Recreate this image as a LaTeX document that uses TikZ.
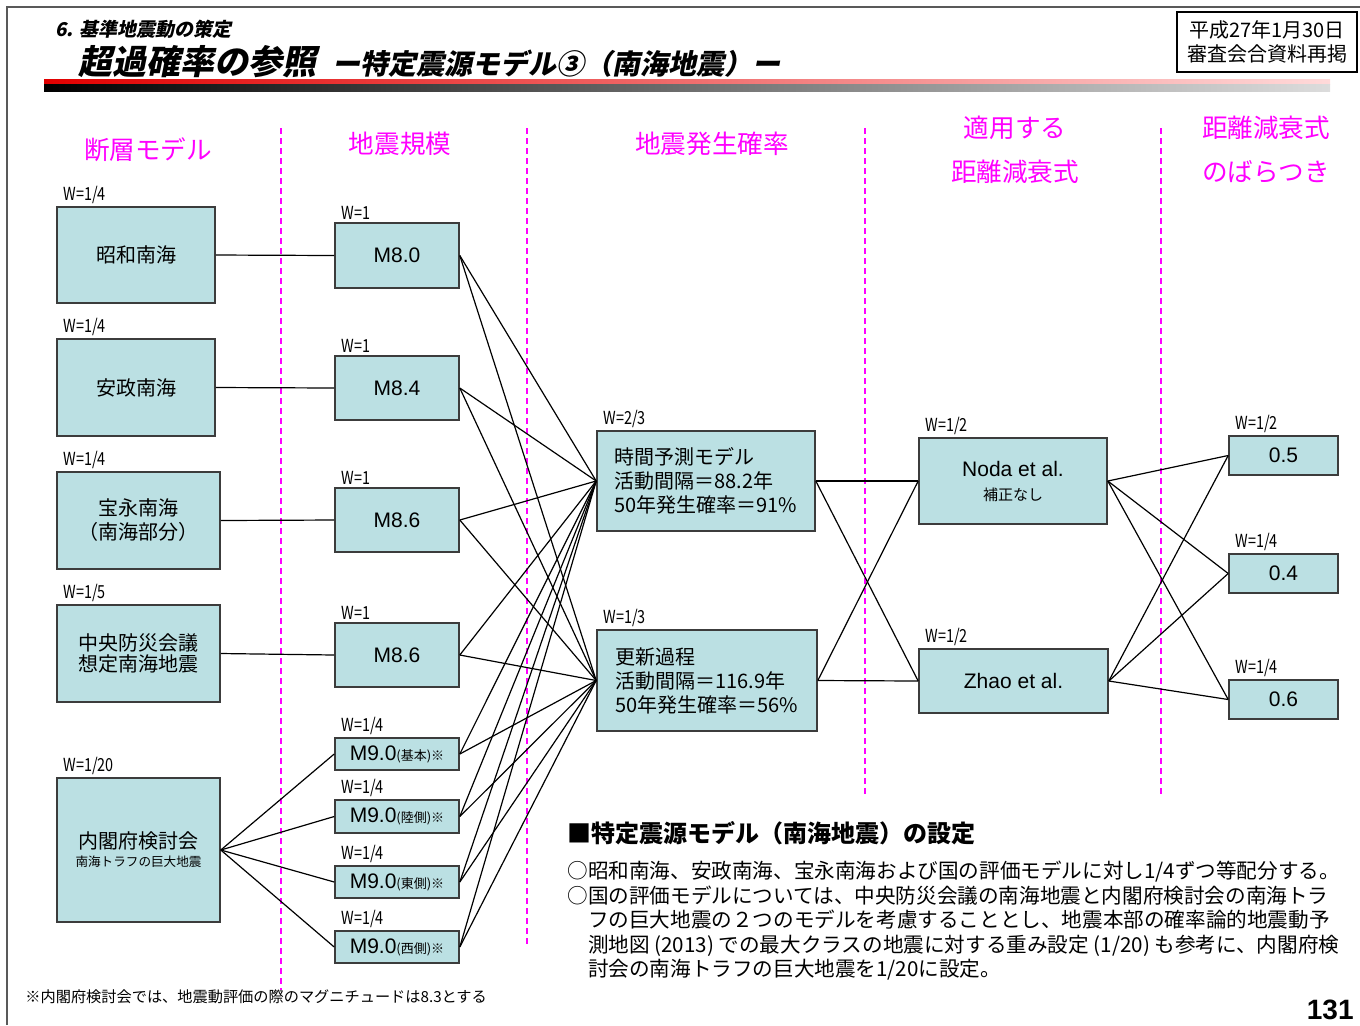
\documentclass[tikz,border=0pt]{standalone}
\usepackage{fontspec}
\setmainfont{Noto Sans CJK JP}
\newfontfamily\latfont{Liberation Sans}
\newfontfamily\wfont[FakeStretch=0.8]{Noto Sans CJK JP}
\newfontfamily\ttlfont[FakeSlant=0.2]{Noto Sans CJK JP}
\definecolor{boxfill}{RGB}{187,224,227}
\definecolor{boxline}{RGB}{60,60,60}
\definecolor{pinkhdr}{RGB}{255,0,255}
\definecolor{barred}{RGB}{225,0,0}
\definecolor{barpink}{RGB}{255,218,218}
\definecolor{bargray}{RGB}{220,220,220}
\tikzset{
  box/.style={draw=boxline, line width=0.8pt, fill=boxfill, inner sep=0pt, align=center, font=\fontsize{10}{12}\selectfont},
  mbox/.style={box, minimum width=62pt, font=\latfont\fontsize{10.5}{12}\selectfont},
  vbox/.style={box, minimum width=54.5pt, minimum height=19.5pt, font=\latfont\fontsize{10.5}{12}\selectfont},
  wlab/.style={anchor=south west, inner sep=0pt, xshift=3.5pt, yshift=1pt, font=\wfont\fontsize{9}{9}\selectfont},
  wl/.style={label={[wlab]north west:#1}},
  colhead/.style={text=pinkhdr, align=center, font=\fontsize{12.8}{22}\selectfont},
  sepline/.style={color=pinkhdr, dash pattern=on 3pt off 2pt, line width=0.65pt},
  link/.style={line width=0.6pt}
}
\newcommand{\subtxt}[1]{{\rmfamily\fontsize{6.5}{7}\selectfont #1}}
\begin{document}
\begin{tikzpicture}[x=0.5pt,y=-0.5pt]
\useasboundingbox (0,0) rectangle (1360,1025);
% frame, title and bars
\draw[gray!70!black, line width=1pt] (7,1025) -- (7,7) -- (1360,7);
\node[anchor=west, inner sep=0pt, font=\ttlfont\bfseries\fontsize{9.5}{11}\selectfont] (sub) at (55,29) {6. 基準地震動の策定};
\node[anchor=west, inner sep=0pt, font=\ttlfont\bfseries\fontsize{17}{20}\selectfont] (ttl) at (78,62) {超過確率の参照\hspace{8pt}{\fontsize{14}{16}\selectfont ー特定震源モデル③（南海地震）ー}};
\shade[left color=barred, right color=barpink] (44,79) rectangle (1330,84);
\shade[left color=black, right color=bargray] (44,84) rectangle (1330,91);
\node[draw, line width=0.8pt, minimum width=90pt, minimum height=30pt, align=center, font=\fontsize{10}{12}\selectfont] (date) at (1267,42) {平成27年1月30日\\審査会合資料再掲};
% column heads and separators
\node[colhead] (h1) at (148,150) {断層モデル};
\node[colhead] (h2) at (400,144) {地震規模};
\node[colhead] (h3) at (712,144) {地震発生確率};
\node[colhead] (h4) at (1015,150) {適用する\\距離減衰式};
\node[colhead] (h5) at (1266,150) {距離減衰式\\のばらつき};
\draw[sepline] (281,128) -- (281,990) (527,128) -- (527,945) (865,128) -- (865,795) (1161,128) -- (1161,795);
% fault models
\node[box,wl={W=1/4},minimum width=79pt,minimum height=48pt] (showa) at (136,255) {昭和南海};
\node[box,wl={W=1/4},minimum width=79pt,minimum height=48.5pt] (ansei) at (136,387.5) {安政南海};
\node[box,wl={W=1/4},minimum width=81.5pt,minimum height=48.5pt] (hoei) at (138.5,520.5) {宝永南海\\（南海部分）};
\node[box,wl={W=1/5},minimum width=81.5pt,minimum height=48.5pt,font=\fontsize{10}{10.5}\selectfont] (chuo) at (138.5,653.5) {中央防災会議\\想定南海地震};
\node[box,wl={W=1/20},minimum width=81.5pt,minimum height=72pt] (naikaku) at (138.5,850) {内閣府検討会\\[-3pt]{\fontsize{6.3}{7}\selectfont 南海トラフの巨大地震}};
% magnitudes
\node[mbox,wl={W=1},minimum height=32.5pt] (m80) at (397,255.5) {M8.0};
\node[mbox,wl={W=1},minimum height=32pt] (m84) at (397,388) {M8.4};
\node[mbox,wl={W=1},minimum height=32pt] (m86a) at (397,520) {M8.6};
\node[mbox,wl={W=1},minimum height=32pt] (m86b) at (397,655) {M8.6};
\node[mbox,wl={W=1/4},minimum height=16pt] (m90a) at (397,754) {M9.0\subtxt{(基本)※}};
\node[mbox,wl={W=1/4},minimum height=16.5pt] (m90b) at (397,816.5) {M9.0\subtxt{(陸側)※}};
\node[mbox,wl={W=1/4},minimum height=16pt] (m90c) at (397,882) {M9.0\subtxt{(東側)※}};
\node[mbox,wl={W=1/4},minimum height=16pt] (m90d) at (397,947) {M9.0\subtxt{(西側)※}};
% probability models
\node[box,wl={W=2/3},minimum width=109pt,minimum height=50pt,align=left] (jikan) at (706,481) {時間予測モデル\\活動間隔＝88.2年\\50年発生確率＝91\%};
\node[box,wl={W=1/3},minimum width=110pt,minimum height=50.5pt,align=left] (koshin) at (707,680.5) {更新過程\\活動間隔＝116.9年\\50年発生確率＝56\%};
% attenuation
\node[box,wl={W=1/2},minimum width=94pt,minimum height=43pt] (noda) at (1013,481) {{\latfont\fontsize{10.5}{12}\selectfont Noda et al.}\\{\fontsize{7.5}{9}\selectfont 補正なし}};
\node[box,wl={W=1/2},minimum width=94.5pt,minimum height=32pt,font=\latfont\fontsize{10.5}{12}\selectfont] (zhao) at (1013.5,681) {Zhao et al.};
\node[vbox,wl={W=1/2}] (v05) at (1283.5,455.5) {0.5};
\node[vbox,wl={W=1/4}] (v04) at (1283.5,573.5) {0.4};
\node[vbox,wl={W=1/4}] (v06) at (1283.5,699.5) {0.6};
% connectors
\draw[link] (showa.east) -- (m80.west) (ansei.east) -- (m84.west) (hoei.east) -- (m86a.west) (chuo.east) -- (m86b.west);
\foreach \m in {m90a,m90b,m90c,m90d} \draw[link] (naikaku.east) -- (\m.west);
\foreach \m in {m80,m84,m86a,m86b,m90a,m90b,m90c,m90d} \foreach \p in {jikan,koshin} \draw[link] (\m.east) -- (\p.west);
\foreach \p in {jikan,koshin} \foreach \g in {noda,zhao} \draw[link] (\p.east) -- (\g.west);
\foreach \g in {noda,zhao} \foreach \v in {v05,v04,v06} \draw[link] (\g.east) -- (\v.west);
% notes
\node[anchor=west, inner sep=0pt, font=\bfseries\fontsize{12}{14}\selectfont] (sethead) at (567,833) {■特定震源モデル（南海地震）の設定};
\node[anchor=north west, inner sep=0pt, align=left, font=\fontsize{10.3}{12.25}\selectfont] (setbody) at (567,861) {○昭和南海、安政南海、宝永南海および国の評価モデルに対し1/4ずつ等配分する。\\○国の評価モデルについては、中央防災会議の南海地震と内閣府検討会の南海トラ\\\hspace*{1em}フの巨大地震の２つのモデルを考慮することとし、地震本部の確率論的地震動予\\\hspace*{1em}測地図 (2013) での最大クラスの地震に対する重み設定 (1/20) も参考に、内閣府検\\\hspace*{1em}討会の南海トラフの巨大地震を1/20に設定。};
\node[anchor=west, inner sep=0pt, font=\fontsize{7.6}{9}\selectfont] (note) at (25,997) {※内閣府検討会では、地震動評価の際のマグニチュードは8.3とする};
\node[anchor=south east, inner sep=0pt, font=\latfont\bfseries\fontsize{14}{16}\selectfont] (pg) at (1354,1020) {131};
\end{tikzpicture}
\end{document}
